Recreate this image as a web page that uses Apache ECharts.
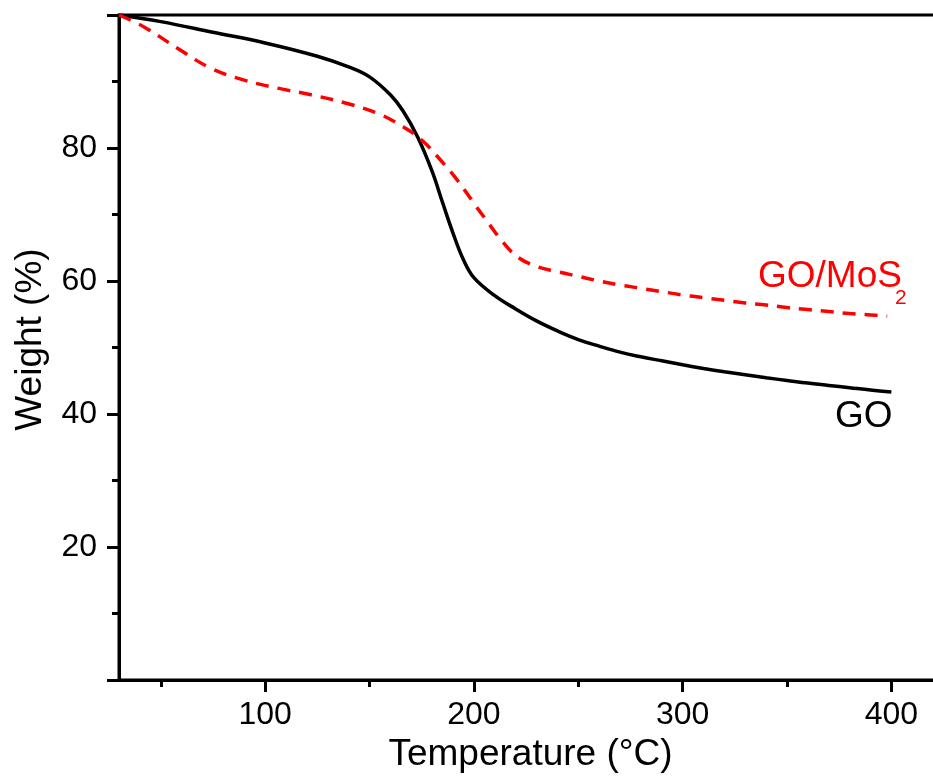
<!DOCTYPE html>
<html>
<head>
<meta charset="utf-8">
<script src="https://cdn.jsdelivr.net/npm/echarts@6/dist/echarts.min.js"></script>
<style>
html,body{margin:0;padding:0;background:#fff;overflow:hidden;}
#chart{width:933px;height:778px;}
</style>
</head>
<body>
<div id="chart"></div>
<script>
// Temperature (°C) / Weight (%)
var goTemp   = [30, 50, 75, 100, 125, 140, 150, 160, 166, 173, 180, 185, 190, 195, 200, 210, 220, 230, 240, 250, 260, 270, 280, 290, 300, 310, 320, 330, 340, 350, 360, 370, 380, 390, 400];
var goWeight = [100, 99, 97.4, 95.8, 93.8, 92.2, 90.7, 88, 85.6, 81.7, 76.5, 71.8, 67.2, 63.2, 60.5, 57.8, 55.8, 54.0, 52.5, 51.2, 50.2, 49.3, 48.6, 48.0, 47.4, 46.85, 46.35, 45.9, 45.45, 45.05, 44.65, 44.3, 43.95, 43.6, 43.3];
var mosTemp   = [30, 42, 58, 74, 90, 106, 122, 138, 154, 166, 175, 184, 192, 200, 207, 213, 221, 230, 240, 250, 260, 270, 280, 290, 300, 310, 320, 330, 340, 350, 360, 370, 380, 390, 398];
var mosWeight = [100, 98.2, 95, 92, 90.2, 89, 88, 86.8, 85.2, 83.2, 81.2, 78.2, 75.2, 71.7, 68.7, 66.2, 63.6, 62.2, 61.4, 60.7, 60.0, 59.4, 58.9, 58.4, 57.9, 57.5, 57.1, 56.7, 56.4, 56.0, 55.7, 55.4, 55.1, 54.9, 54.7];
var xMajorTicks = [100, 200, 300, 400];
var xMinorTicks = [50, 150, 250, 350];
var yTicks = [20, 40, 60, 80];

function pairs(xs, ys){ return xs.map(function(x,i){ return [x, ys[i]]; }); }

var font = '"Liberation Sans", Arial, sans-serif';
var chart = echarts.init(document.getElementById('chart'));
chart.setOption({
  animation: false,
  backgroundColor: '#fff',
  grid: { left: 119, top: 15, width: 835, height: 665, outerBoundsMode: 'none', containLabel: false,
          show: true, borderColor: '#000', borderWidth: 3, backgroundColor: 'transparent' },
  xAxis: [{
    type: 'value', min: 30, max: 430,
    name: 'Temperature (°C)', nameLocation: 'middle', nameGap: 54,
    nameTextStyle: { fontFamily: font, fontSize: 37, color: '#000', padding: [0, 12, 0, 0] },
    axisLine: { show: true, onZero: false, lineStyle: { color: '#000', width: 3 } },
    axisTick: { show: true, length: 12, customValues: xMajorTicks, lineStyle: { color: '#000', width: 3 } },
    axisLabel: { show: true, customValues: xMajorTicks, margin: 19, fontFamily: font, fontSize: 32, color: '#000' },
    splitLine: { show: false }
  }, {
    type: 'value', min: 30, max: 430, gridIndex: 0, position: 'bottom',
    axisLine: { show: false },
    axisTick: { show: true, length: 7, customValues: xMinorTicks, lineStyle: { color: '#000', width: 3 } },
    axisLabel: { show: false },
    splitLine: { show: false }
  }],
  yAxis: {
    type: 'value', min: 0, max: 100, interval: 20,
    name: 'Weight (%)', nameLocation: 'middle', nameGap: 70,
    nameTextStyle: { fontFamily: font, fontSize: 37, color: '#000', padding: [0, 0, 0, 16] },
    axisLine: { show: true, onZero: false, lineStyle: { color: '#000', width: 3 } },
    axisTick: { show: true, length: 12, lineStyle: { color: '#000', width: 3 } },
    minorTick: { show: true, splitNumber: 2, length: 7, lineStyle: { color: '#000', width: 3 } },
    axisLabel: { customValues: yTicks, margin: 22, fontFamily: font, fontSize: 32, color: '#000' },
    splitLine: { show: false }, minorSplitLine: { show: false }
  },
  series: [{
    name: 'GO', type: 'line', xAxisIndex: 0, data: pairs(goTemp, goWeight),
    smooth: 0.4, showSymbol: false, symbol: 'none',
    lineStyle: { color: '#000', width: 3.5 }
  }, {
    name: 'GO/MoS2', type: 'line', xAxisIndex: 0, data: pairs(mosTemp, mosWeight),
    smooth: 0.4, showSymbol: false, symbol: 'none',
    lineStyle: { color: '#ff0000', width: 3.5, type: [13, 9] }
  }],
  graphic: [
    { type: 'text', left: 758, top: 258, style: { text: 'GO/MoS', font: '37px ' + font, fill: '#ff0000' } },
    { type: 'text', left: 895, top: 288, style: { text: '2', font: '21px ' + font, fill: '#ff0000' } },
    { type: 'text', left: 835, top: 398, style: { text: 'GO', font: '37px ' + font, fill: '#000' } }
  ]
});
</script>
</body>
</html>
